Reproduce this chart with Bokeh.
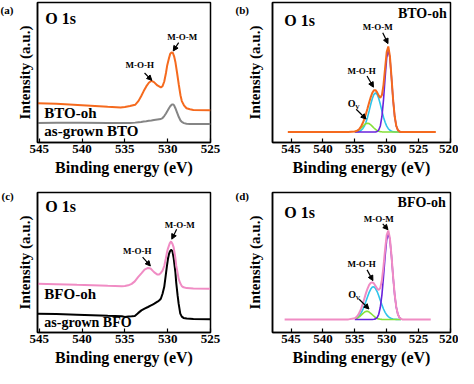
from bokeh.plotting import figure
from bokeh.models import Range1d, FixedTicker, Label, Arrow, NormalHead
from bokeh.layouts import gridplot
from bokeh.embed import file_html
from bokeh.resources import INLINE

FONT = "'Liberation Serif', 'Times New Roman', serif"

# ---------------- data ----------------
ticks_ac = [545, 540, 535, 530, 525]
ticks_bd = [545, 540, 535, 530, 525, 520]

# (a) BTO O 1s
energy_a = [545.2, 543.0, 540.0, 537.0, 535.5, 535.0, 534.4, 533.8, 533.4, 533.1, 532.8, 532.5,
            532.2, 531.9, 531.6, 531.2, 530.8, 530.6, 530.4, 530.2, 530.05, 529.85, 529.7, 529.55,
            529.4, 529.25, 529.1, 528.9, 528.7, 528.5, 528.35, 528.1, 527.8, 527.4, 527.0, 525.0]
bto_oh = [40, 39.5, 38, 36.5, 35.8, 36.3, 37.2, 38.5, 42.5, 47.3, 52.5, 57.3,
          61, 63, 61.7, 58.3, 56.3, 57.5, 62.3, 71, 79, 86, 90.7, 92,
          91.7, 88, 82.3, 71, 59, 48, 42.3, 38, 35, 34, 33.3, 33]
bto_grown = [20, 20.2, 20.3, 20, 19.8, 19.8, 20, 20.3, 20.7, 21, 21.5, 21.8,
             22.2, 22.5, 23, 23.5, 24, 25, 27, 29.7, 32, 35, 37, 38.5,
             39, 38, 35, 30.5, 26, 22.5, 21, 19.8, 19.2, 19, 19, 19]

# (c) BFO O 1s
energy_c = [545.2, 543.0, 540.6, 537.0, 535.35, 535.0, 534.6, 534.2, 533.84, 533.46, 533.07, 532.7,
            532.3, 532.0, 531.76, 531.56, 531.19, 531.0, 530.8, 530.6, 530.4, 530.23, 530.1, 529.97,
            529.86, 529.75, 529.6, 529.45, 529.3, 529.1, 529.0, 528.84, 528.72, 528.53, 528.35, 528.15,
            527.78, 527.0, 525.05]
bfo_oh = [49, 48.7, 48, 47, 46.7, 46.8, 47.5, 49, 51.5, 55.7, 59.5, 63.3,
          65, 64.5, 62.3, 60.5, 58.3, 58.5, 60, 62.3, 67, 74, 80, 84.5,
          87.3, 90, 91.7, 89.5, 85.7, 75, 67.3, 60, 54, 49.5, 46.7, 45.5,
          44.7, 44.3, 44]
bfo_grown = [19, 18.7, 18, 16.8, 16.3, 15.7, 16, 16.3, 16.7, 19.5, 22.3, 24,
             25.7, 27, 28, 29, 31, 32.3, 34, 39, 46, 57.3, 66, 74,
             78.5, 81.5, 83.3, 82, 75, 60.7, 50, 37.3, 29, 19, 16, 14.7,
             14, 13.5, 13.3]

# peak-fit components (b) BTO-oh and (d) BFO-oh
energy_fit = [535.0, 534.75, 534.5, 534.25, 534.0, 533.75, 533.5, 533.25, 533.0, 532.75,
              532.5, 532.25, 532.0, 531.75, 531.5, 531.25, 531.0, 530.75, 530.5, 530.25,
              530.0, 529.75, 529.5, 529.25, 529.0, 528.75, 528.5, 528.25, 528.0, 527.75]

energy_env_b = [545.5, 542.0, 538.0, 536.0] + energy_fit + [527.5, 527.0, 525.0, 522.3]
env_b = [10.7, 10.7, 10.7, 10.8,
         11.2, 11.7, 12.6, 14.2, 16.6, 19.9, 24.1, 29.3, 34.9, 40.9,
         46.4, 50.8, 53.3, 53.5, 51.2, 47.8, 45.6, 48.4, 58.9, 76.1,
         92.4, 98.1, 88.2, 66.9, 44.0, 26.8, 17.0, 12.7, 11.2, 10.8,
         10.7, 10.7, 10.7, 10.7]
mom_b = [10.7, 10.7, 10.7, 10.7, 10.7, 10.7, 10.7, 10.7, 10.7, 10.7,
         10.7, 10.7, 10.7, 10.8, 11.2, 12.7, 16.9, 26.6, 43.6, 66.1,
         86.4, 94.7, 86.4, 66.1, 43.6, 26.6, 16.9, 12.7, 11.2, 10.8]
moh_b = [10.8, 10.9, 11.1, 11.5, 12.5, 14.1, 16.7, 20.7, 25.9, 32.3,
         39.0, 45.0, 49.2, 50.7, 49.2, 45.0, 39.0, 32.3, 25.9, 20.7,
         16.7, 14.1, 12.5, 11.5, 11.1, 10.9, 10.8, 10.7, 10.7, 10.7]
ov_b = [11.1, 11.5, 12.2, 13.4, 14.8, 16.5, 18.1, 19.3, 19.7, 19.3,
        18.1, 16.5, 14.8, 13.4, 12.2, 11.5, 11.1, 10.9, 10.8, 10.7,
        10.7, 10.7, 10.7, 10.7, 10.7, 10.7, 10.7, 10.7, 10.7, 10.7]

energy_env_d = [546.0, 542.0, 538.0, 536.0] + energy_fit + [527.5, 527.0, 525.0, 523.1]
env_d = [13.3, 13.3, 13.3, 13.4,
         14.6, 15.8, 17.7, 20.6, 24.5, 29.3, 34.7, 40.2, 44.9, 48.6,
         50.7, 51.2, 50.1, 47.5, 44.8, 43.4, 45.6, 53.5, 67.6, 85.0,
         99.4, 104.2, 96.4, 78.6, 57.4, 38.7, 25.9, 18.6, 15.2, 13.9,
         13.3, 13.3, 13.3, 13.3]
mom_d = [13.3, 13.3, 13.3, 13.3, 13.3, 13.3, 13.3, 13.3, 13.3, 13.3,
         13.3, 13.3, 13.5, 13.9, 15.2, 18.6, 25.8, 38.5, 56.9, 77.7,
         94.7, 101.3, 94.7, 77.7, 56.9, 38.5, 25.8, 18.6, 15.2, 13.9]
moh_d = [14.1, 14.8, 15.9, 17.6, 20.0, 23.3, 27.3, 31.9, 36.6, 41.0,
         44.4, 46.4, 46.6, 44.9, 41.8, 37.5, 32.8, 28.2, 24.0, 20.6,
         18.0, 16.2, 15.0, 14.2, 13.8, 13.5, 13.4, 13.3, 13.3, 13.3]
ov_d = [13.8, 14.3, 15.1, 16.3, 17.8, 19.3, 20.7, 21.6, 21.6, 20.9,
        19.6, 18.1, 16.6, 15.3, 14.4, 13.9, 13.6, 13.4, 13.3, 13.3,
        13.3, 13.3, 13.3, 13.3, 13.3, 13.3, 13.3, 13.3, 13.3, 13.3]

# ---------------- styles ----------------
ORANGE = "#F56A1E"
GRAY = "#858585"
PINK = "#F08CC4"
CYAN = "#2EC4EA"
PURPLE = "#6A22DC"
GREEN = "#86E03A"
FH = 140


def make_fig(w, h, x0, x1, ymax, ticks, bl, br, bt, bb, ystand):
    p = figure(width=w, height=h, x_range=Range1d(x0, x1), y_range=Range1d(0, ymax),
               output_backend="svg", toolbar_location=None,
               min_border_left=bl, min_border_right=br, min_border_top=bt, min_border_bottom=bb)
    p.xgrid.visible = False
    p.ygrid.visible = False
    p.outline_line_color = "black"
    p.outline_line_width = 1.5
    p.outline_line_alpha = 1
    p.background_fill_color = "white"
    p.border_fill_color = "white"
    xa = p.xaxis[0]
    xa.ticker = FixedTicker(ticks=ticks)
    xa.minor_tick_line_color = None
    xa.major_tick_in = 4
    xa.major_tick_out = 0
    xa.major_tick_line_width = 1.2
    xa.major_label_text_font = FONT
    xa.major_label_text_font_style = "bold"
    xa.major_label_text_font_size = "13px"
    xa.major_label_text_color = "black"
    xa.major_label_standoff = 2
    xa.axis_label = "Binding energy (eV)"
    xa.axis_label_text_font = FONT
    xa.axis_label_text_font_style = "bold"
    xa.axis_label_text_font_size = "16px"
    xa.axis_label_text_color = "black"
    xa.axis_label_standoff = 3
    xa.axis_line_width = 1.5
    ya = p.yaxis[0]
    ya.ticker = FixedTicker(ticks=[])
    ya.minor_tick_line_color = None
    ya.major_tick_line_color = None
    ya.axis_label = "Intensity (a.u.)"
    ya.axis_label_text_font = FONT
    ya.axis_label_text_font_style = "bold"
    ya.axis_label_text_font_size = "15px"
    ya.axis_label_text_color = "black"
    ya.axis_label_standoff = ystand
    ya.axis_line_width = 1.5
    return p


def txt(p, x, y, s, size, align="left"):
    p.add_layout(Label(x=x, y=y, text=s,
                       text_font=FONT, text_font_style="bold", text_font_size=size,
                       text_align=align, text_baseline="middle", text_color="black"))


def letter(p, s, x, y):
    p.add_layout(Label(x=x, y=y, x_units="screen", y_units="screen", text=s,
                       text_font=FONT, text_font_style="bold", text_font_size="11px",
                       text_align="left", text_baseline="middle", text_color="black"), "left")


def arrow(p, x0, y0, x1, y1):
    p.add_layout(Arrow(end=NormalHead(size=5, fill_color="black", line_color="black", line_width=1),
                       x_start=x0, y_start=y0, x_end=x1, y_end=y1,
                       line_color="black", line_width=1.2))


# (a)
pa = make_fig(225, 178, 545.2, 525, 143, ticks_ac, 34, 15, 2, 36, 5)
pa.line(energy_a, bto_grown, line_color=GRAY, line_width=2)
pa.line(energy_a, bto_oh, line_color=ORANGE, line_width=2)
txt(pa, 544.3, 126.5, "O 1s", "16px")
txt(pa, 544.4, 30, "BTO-oh", "15px")
txt(pa, 544.4, 12, "as-grown BTO", "15px")
txt(pa, 528.3, 108, "M-O-M", "9px", "center")
arrow(pa, 528.72, 102, 529.35, 93.5)
txt(pa, 533.27, 79, "M-O-H", "9px", "center")
arrow(pa, 532.7, 71, 531.85, 63.5)
letter(pa, "(a)", 0, FH - 7)

# (b)
pb = make_fig(233, 178, 547.9, 520, 143, ticks_bd, 47, 8, 2, 36, 10)
pb.line(energy_fit, moh_b, line_color=CYAN, line_width=1.6)
pb.line(energy_fit, ov_b, line_color=GREEN, line_width=1.6)
pb.line(energy_fit, mom_b, line_color=PURPLE, line_width=1.6)
pb.line(energy_env_b, env_b, line_color=ORANGE, line_width=2)
txt(pb, 546.05, 125, "O 1s", "16px")
txt(pb, 520.6, 132, "BTO-oh", "14px", "right")
txt(pb, 531.4, 118, "M-O-M", "9px", "center")
arrow(pb, 530.62, 112, 529.8, 101)
txt(pb, 533.93, 73, "M-O-H", "9px", "center")
arrow(pb, 533.08, 68, 532.08, 56.5)
txt(pb, 535.48, 40, "O", "10px", "center")
txt(pb, 534.6, 36, "V", "6px", "center")
arrow(pb, 534.78, 34, 533.24, 24)
letter(pb, "(b)", 5, FH - 7)

# (c)
pc = make_fig(225, 190, 545.2, 525, 141, ticks_ac, 34, 15, 14, 36, 5)
pc.line(energy_c, bfo_grown, line_color="black", line_width=2)
pc.line(energy_c, bfo_oh, line_color=PINK, line_width=2)
txt(pc, 544.3, 127, "O 1s", "16px")
txt(pc, 544.4, 38.5, "BFO-oh", "15px")
txt(pc, 544.4, 10, "as-grown BFO", "14px")
txt(pc, 528.6, 108.5, "M-O-M", "9px", "center")
arrow(pc, 528.95, 104, 529.52, 94)
txt(pc, 533.55, 82, "M-O-H", "9px", "center")
arrow(pc, 532.93, 76, 532.02, 67)
letter(pc, "(c)", 0, FH - 3)

# (d)
pd = make_fig(233, 190, 547.9, 520, 143, ticks_bd, 47, 8, 14, 36, 10)
pd.line(energy_fit, moh_d, line_color=CYAN, line_width=1.6)
pd.line(energy_fit, ov_d, line_color=GREEN, line_width=1.6)
pd.line(energy_fit, mom_d, line_color=PURPLE, line_width=1.6)
pd.line(energy_env_d, env_d, line_color=PINK, line_width=2)
txt(pd, 546.05, 123, "O 1s", "16px")
txt(pd, 520.74, 132.5, "BFO-oh", "14px", "right")
txt(pd, 531.23, 115.5, "M-O-M", "9px", "center")
arrow(pd, 530.62, 111, 529.8, 105)
txt(pd, 533.93, 69.5, "M-O-H", "9px", "center")
arrow(pd, 533.08, 64, 532.16, 53)
txt(pd, 535.4, 39, "O", "10px", "center")
txt(pd, 534.5, 35, "V", "6px", "center")
arrow(pd, 534.32, 34, 532.78, 24)
letter(pd, "(d)", 5, FH - 3)

grid = gridplot([[pa, pb], [pc, pd]], toolbar_location=None)

open("out.html", "w").write(file_html(grid, INLINE))
